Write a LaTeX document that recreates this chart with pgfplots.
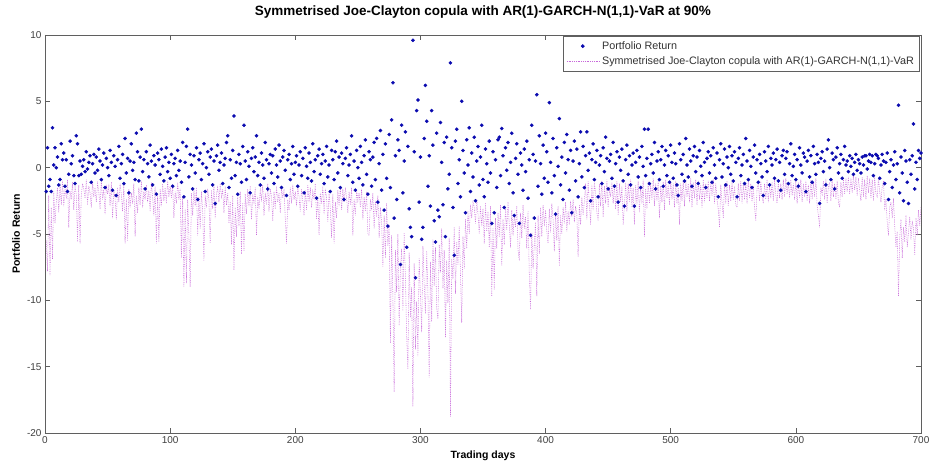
\documentclass[border=0pt]{standalone}
\usepackage{fontspec}
\setmainfont{Liberation Sans}
\usepackage{pgfplots}
\usepackage{pgfplotstable}
\pgfplotsset{compat=1.18}

\definecolor{retblue}{RGB}{10,10,175}
\definecolor{varmag}{RGB}{200,105,218}
\definecolor{framegray}{RGB}{95,95,95}

\pgfplotsset{
  dotlegend/.style={legend image code/.code={\draw[##1] plot coordinates {(16pt,0pt)};}},
  linelegend/.style={legend image code/.code={\draw[##1, draw=varmag] (0pt,0pt) -- (33pt,0pt);}},
}

% daily portfolio returns, days 1..700
\pgfplotstableread[row sep=\\]{
r\\
-1.8\\ 1.5\\ -1.4\\ -0.9\\ -1.8\\ 3.0\\ 0.2\\ 1.5\\ 0.0\\ 0.8\\
-1.3\\ -0.9\\ 1.8\\ 0.6\\ 1.1\\ -1.4\\ 0.6\\ -1.8\\ -0.5\\ 2.0\\
0.3\\ 0.9\\ -0.6\\ -1.2\\ 2.4\\ 1.8\\ -0.6\\ 0.5\\ -0.5\\ 0.1\\
0.6\\ -0.3\\ 1.2\\ -0.1\\ 0.4\\ 0.9\\ -1.1\\ 0.3\\ 1.0\\ -0.4\\
0.8\\ -0.2\\ 1.4\\ 0.5\\ -0.9\\ 0.2\\ 1.1\\ -1.5\\ 0.7\\ 0.0\\
-0.6\\ 1.3\\ 0.4\\ -1.7\\ 0.9\\ 0.1\\ -2.1\\ 0.6\\ 1.6\\ -0.8\\
0.3\\ 1.0\\ -1.2\\ 2.2\\ -0.4\\ 0.7\\ -1.9\\ 0.5\\ 1.8\\ -0.2\\
0.4\\ -0.9\\ 2.6\\ 1.2\\ -1.0\\ 0.8\\ 2.9\\ -0.3\\ 0.6\\ -1.6\\
1.2\\ 0.3\\ -0.7\\ 1.7\\ 0.5\\ -1.3\\ 0.9\\ 0.2\\ -2.0\\ 1.1\\
0.6\\ -0.5\\ 1.4\\ 0.1\\ -1.0\\ 0.8\\ 1.5\\ -0.3\\ 0.4\\ -0.8\\
1.0\\ -1.4\\ 0.3\\ 0.7\\ -0.6\\ 1.3\\ -0.2\\ 0.5\\ -1.1\\ 1.9\\
-2.2\\ 0.4\\ 1.6\\ 2.9\\ -0.7\\ 1.0\\ 0.2\\ -1.6\\ 0.9\\ -0.4\\
1.5\\ -2.4\\ 0.6\\ 1.1\\ -0.9\\ 0.3\\ 1.8\\ -1.8\\ 0.0\\ 1.2\\
-0.5\\ 0.8\\ 1.4\\ -1.3\\ 0.5\\ -2.7\\ 0.9\\ 1.7\\ -0.2\\ 0.4\\
1.1\\ -1.2\\ 0.2\\ 0.7\\ 1.9\\ 2.4\\ -1.5\\ 0.6\\ -0.8\\ 1.3\\
3.9\\ -0.6\\ 0.4\\ -2.0\\ 1.0\\ 0.3\\ -1.1\\ 1.6\\ 3.2\\ 0.5\\
-0.9\\ 1.2\\ 0.1\\ -1.9\\ 0.7\\ 1.5\\ -0.3\\ 0.8\\ 2.4\\ -0.6\\
0.4\\ -1.3\\ 1.1\\ 0.2\\ -0.8\\ 1.9\\ 0.6\\ -1.6\\ 0.3\\ 1.0\\
-0.4\\ 0.9\\ -1.2\\ 1.4\\ 0.2\\ -0.7\\ 1.7\\ 0.5\\ -1.5\\ 0.8\\
1.3\\ -0.2\\ -2.1\\ 0.6\\ 1.0\\ -0.9\\ 0.3\\ 1.6\\ -0.5\\ 0.4\\
0.9\\ -1.4\\ 0.2\\ 1.2\\ -0.6\\ 0.7\\ -1.9\\ 1.5\\ 0.1\\ -0.8\\
1.1\\ 0.4\\ -1.0\\ 1.8\\ -0.3\\ 0.6\\ -2.3\\ 0.9\\ 1.4\\ -0.5\\
0.3\\ 1.0\\ -1.2\\ 0.5\\ 1.6\\ -0.7\\ 0.2\\ -1.8\\ 1.3\\ 0.6\\
-0.9\\ 1.2\\ 2.0\\ -0.4\\ 0.8\\ -1.5\\ 1.1\\ 0.3\\ -2.4\\ 0.7\\
1.5\\ -0.6\\ 0.2\\ 1.0\\ 2.4\\ -1.1\\ 0.5\\ -1.7\\ 1.3\\ 0.0\\
-0.8\\ 1.6\\ 0.4\\ -1.3\\ 0.9\\ 2.1\\ -0.5\\ -2.0\\ 1.2\\ 0.6\\
-1.4\\ 0.8\\ 1.9\\ -0.9\\ 2.2\\ -2.6\\ 0.3\\ 2.8\\ -1.7\\ 1.0\\
-3.2\\ 1.8\\ -0.8\\ -4.4\\ 2.5\\ -1.5\\ 3.6\\ 6.4\\ -3.8\\ 0.9\\
-2.4\\ 2.1\\ 1.3\\ -7.3\\ 3.2\\ -1.9\\ 0.5\\ 2.7\\ -6.0\\ 1.6\\
-3.1\\ -4.5\\ -5.2\\ 9.6\\ 1.2\\ -8.3\\ 4.3\\ 5.1\\ -2.6\\ 0.8\\
-5.4\\ -4.5\\ 2.2\\ 6.2\\ 3.5\\ -1.4\\ 0.9\\ -2.9\\ 4.3\\ 1.7\\
-4.0\\ -5.6\\ 2.6\\ -3.2\\ -3.7\\ 3.4\\ 0.4\\ -2.8\\ 1.9\\ -5.2\\
2.3\\ -1.6\\ -0.5\\ 7.9\\ 1.5\\ -3.0\\ -6.6\\ 2.0\\ 2.9\\ -1.2\\
0.6\\ -2.2\\ 5.0\\ 1.3\\ -0.4\\ -3.4\\ 2.1\\ 0.2\\ 3.0\\ -1.8\\
1.1\\ -0.7\\ 2.3\\ -2.5\\ 0.5\\ 1.6\\ -1.3\\ 0.8\\ 3.2\\ -0.9\\
-2.2\\ 1.4\\ 0.3\\ -1.1\\ 2.0\\ -0.4\\ -4.2\\ 1.2\\ -3.4\\ 0.6\\
-1.5\\ 2.1\\ 2.3\\ -0.6\\ 2.95\\ 0.9\\ -3.0\\ 1.5\\ -0.2\\ 1.9\\
-1.2\\ 0.4\\ 2.6\\ -1.9\\ -3.6\\ 0.7\\ 1.8\\ -0.5\\ -4.2\\ 1.1\\
0.2\\ -1.7\\ 1.4\\ -0.3\\ 2.0\\ -2.3\\ 0.6\\ -5.1\\ 3.2\\ 1.0\\
-3.8\\ 0.5\\ 5.5\\ -1.4\\ 2.4\\ 0.3\\ -2.0\\ 1.7\\ -0.8\\ 2.6\\
1.2\\ -1.1\\ 4.9\\ 0.4\\ -1.9\\ 2.2\\ -0.6\\ -3.5\\ 1.5\\ 0.1\\
3.7\\ -1.3\\ 0.8\\ -2.4\\ 1.9\\ -0.4\\ 2.5\\ 0.6\\ -1.7\\ 1.3\\
-3.4\\ 0.5\\ 2.0\\ -1.0\\ 1.4\\ -2.2\\ 0.3\\ 2.7\\ -0.7\\ 1.6\\
-1.5\\ 0.9\\ 2.7\\ -0.2\\ 1.1\\ -2.5\\ 0.6\\ 1.8\\ -0.9\\ 0.4\\
1.3\\ -2.2\\ 0.2\\ 0.9\\ -1.2\\ 1.5\\ -0.3\\ 2.3\\ 0.7\\ -1.6\\
0.5\\ 1.0\\ -0.8\\ 1.9\\ -1.4\\ 0.3\\ 1.2\\ -2.6\\ 0.8\\ -0.2\\
1.4\\ -1.0\\ -2.9\\ 0.6\\ 1.7\\ -0.5\\ 0.9\\ -1.3\\ 0.2\\ 1.1\\
-2.9\\ 0.4\\ 1.3\\ -0.7\\ 0.8\\ -1.5\\ 1.6\\ 0.1\\ 2.9\\ -0.6\\
0.7\\ 2.9\\ -1.2\\ 0.3\\ 1.0\\ -0.4\\ 1.9\\ -1.6\\ 0.5\\ 1.2\\
-0.9\\ 0.6\\ 1.6\\ -1.4\\ 0.2\\ 1.3\\ -0.6\\ 0.9\\ -1.1\\ 1.7\\
0.4\\ -0.8\\ 1.1\\ 0.3\\ -1.3\\ -2.1\\ 1.8\\ 0.6\\ -0.5\\ 1.0\\
-1.0\\ 2.2\\ 0.2\\ -0.7\\ 1.4\\ 0.5\\ -1.4\\ 0.9\\ 1.6\\ -0.3\\
0.8\\ -1.2\\ 1.3\\ 0.1\\ -0.6\\ 1.9\\ 0.4\\ -1.5\\ 0.7\\ 1.2\\
-0.4\\ 0.9\\ -1.1\\ 1.5\\ 0.2\\ -0.8\\ 1.1\\ -2.2\\ 0.6\\ 1.8\\
-0.7\\ 0.3\\ 1.4\\ -1.3\\ 0.8\\ 0.0\\ 1.6\\ -0.5\\ 0.9\\ -1.0\\
1.2\\ 0.4\\ -2.2\\ 0.7\\ 1.5\\ -0.6\\ 0.2\\ 1.0\\ -1.2\\ 2.2\\
0.5\\ -0.9\\ 1.3\\ 0.1\\ -1.5\\ 0.8\\ 1.7\\ -0.4\\ 0.6\\ -1.1\\
1.0\\ 0.3\\ -0.7\\ -2.1\\ 1.2\\ 0.5\\ -0.3\\ 1.6\\ -1.3\\ 0.7\\
0.2\\ 1.1\\ -0.8\\ 0.6\\ 1.4\\ -1.0\\ 0.4\\ -1.7\\ 0.9\\ 1.3\\
-0.5\\ 0.7\\ 1.2\\ -1.2\\ 0.3\\ 1.8\\ -0.6\\ 0.1\\ 1.0\\ -0.9\\
0.6\\ -1.4\\ 1.5\\ 0.2\\ -0.4\\ 1.1\\ 0.8\\ -1.8\\ 0.5\\ 1.3\\
-0.7\\ 0.9\\ -1.1\\ 1.6\\ 0.3\\ -0.5\\ 1.0\\ 0.4\\ -2.7\\ 0.7\\
1.2\\ -0.3\\ 0.5\\ -1.3\\ 1.4\\ 2.1\\ 0.0\\ -0.9\\ 1.1\\ 0.6\\
-1.6\\ 0.8\\ 1.5\\ -0.4\\ 0.3\\ 1.0\\ -0.8\\ 0.6\\ 1.6\\ 0.2\\
0.5\\ -0.3\\ 0.9\\ 0.1\\ 0.7\\ -0.5\\ 0.4\\ 1.0\\ -0.2\\ 0.6\\
0.3\\ -0.4\\ 0.8\\ 0.2\\ 0.9\\ 0.9\\ -0.1\\ 0.5\\ 1.0\\ 0.4\\
0.9\\ -0.6\\ 0.3\\ 1.0\\ 0.9\\ 0.7\\ -0.8\\ 0.2\\ 1.0\\ 0.5\\
-1.2\\ 0.4\\ 1.1\\ -2.4\\ -0.3\\ 0.6\\ -1.5\\ 0.2\\ 1.2\\ -0.9\\
0.3\\ 4.7\\ -1.9\\ 0.8\\ -0.4\\ -2.5\\ 1.3\\ 0.5\\ -1.1\\ -2.7\\
0.6\\ -0.5\\ 0.9\\ 3.3\\ -1.6\\ 0.4\\ -0.9\\ 1.3\\ 0.7\\ 1.1\\
}\returns

% 90% value-at-risk forecasts, days 1..700
\pgfplotstableread[row sep=\\]{
v\\
-5.5\\ -7.8\\ -2.1\\ -8.1\\ -3.0\\ -6.9\\ -1.8\\ -4.2\\ -2.6\\ -1.5\\
-3.4\\ -1.2\\ -2.8\\ -1.0\\ -2.9\\ -1.6\\ -2.2\\ -0.9\\ -4.5\\ -1.8\\
-2.4\\ -1.1\\ -3.2\\ -1.4\\ -2.0\\ -5.6\\ -1.3\\ -5.7\\ -2.1\\ -1.2\\
-1.6\\ -2.3\\ -0.9\\ -2.8\\ -1.4\\ -1.9\\ -3.0\\ -1.1\\ -2.2\\ -1.5\\
-2.6\\ -1.2\\ -1.8\\ -3.1\\ -1.0\\ -2.4\\ -1.6\\ -3.5\\ -1.3\\ -2.0\\
-1.4\\ -2.9\\ -1.1\\ -3.8\\ -1.7\\ -2.3\\ -3.9\\ -1.5\\ -2.6\\ -1.2\\
-2.0\\ -3.3\\ -1.3\\ -5.7\\ -2.4\\ -5.5\\ -1.6\\ -3.0\\ -1.9\\ -2.7\\
-1.2\\ -5.2\\ -2.1\\ -3.4\\ -1.5\\ -2.8\\ -1.0\\ -3.0\\ -1.8\\ -2.4\\
-1.3\\ -2.6\\ -1.7\\ -3.3\\ -1.1\\ -2.2\\ -3.6\\ -1.4\\ -5.7\\ -2.0\\
-5.6\\ -1.6\\ -2.9\\ -1.2\\ -2.5\\ -1.5\\ -2.7\\ -1.0\\ -2.2\\ -1.4\\
-2.3\\ -1.3\\ -3.8\\ -1.8\\ -2.7\\ -1.1\\ -2.4\\ -1.6\\ -6.8\\ -2.2\\
-9.0\\ -3.1\\ -8.7\\ -2.4\\ -5.2\\ -9.0\\ -1.9\\ -3.6\\ -1.7\\ -2.9\\
-1.5\\ -5.1\\ -2.2\\ -4.6\\ -1.8\\ -3.3\\ -7.0\\ -2.1\\ -3.0\\ -1.6\\
-2.4\\ -5.7\\ -1.7\\ -3.1\\ -1.3\\ -3.8\\ -2.0\\ -1.5\\ -2.6\\ -1.2\\
-2.2\\ -1.6\\ -3.4\\ -1.4\\ -2.8\\ -1.9\\ -4.2\\ -2.5\\ -5.8\\ -2.1\\
-7.7\\ -3.0\\ -5.2\\ -2.2\\ -4.4\\ -1.8\\ -6.5\\ -2.7\\ -6.3\\ -2.0\\
-3.5\\ -1.6\\ -2.9\\ -1.4\\ -3.9\\ -2.0\\ -2.6\\ -1.5\\ -5.1\\ -2.2\\
-3.1\\ -1.7\\ -2.4\\ -1.3\\ -3.6\\ -1.9\\ -2.8\\ -1.2\\ -3.3\\ -1.6\\
-2.2\\ -4.0\\ -1.8\\ -3.1\\ -1.4\\ -2.6\\ -1.9\\ -3.4\\ -1.5\\ -2.3\\
-1.6\\ -3.8\\ -5.7\\ -2.4\\ -3.2\\ -1.5\\ -2.7\\ -1.3\\ -2.4\\ -1.8\\
-2.9\\ -1.4\\ -2.2\\ -3.3\\ -1.6\\ -2.5\\ -3.6\\ -1.7\\ -3.2\\ -1.3\\
-2.6\\ -1.5\\ -3.0\\ -1.8\\ -2.4\\ -1.2\\ -3.9\\ -2.2\\ -5.1\\ -1.9\\
-2.7\\ -1.4\\ -3.5\\ -1.6\\ -2.3\\ -4.1\\ -1.8\\ -3.1\\ -5.3\\ -2.0\\
-5.7\\ -2.6\\ -3.8\\ -1.7\\ -2.9\\ -1.4\\ -3.2\\ -1.6\\ -2.6\\ -1.5\\
-2.3\\ -3.4\\ -1.8\\ -2.8\\ -1.5\\ -5.1\\ -2.4\\ -3.6\\ -1.7\\ -2.5\\
-1.9\\ -3.0\\ -1.6\\ -3.9\\ -2.2\\ -3.3\\ -1.8\\ -5.0\\ -5.1\\ -2.4\\
-3.2\\ -1.9\\ -4.6\\ -2.5\\ -3.7\\ -2.1\\ -5.3\\ -3.0\\ -4.1\\ -7.5\\
-3.6\\ -6.8\\ -2.7\\ -5.9\\ -4.3\\ -13.2\\ -5.1\\ -9.8\\ -16.9\\ -6.2\\
-9.4\\ -5.0\\ -11.9\\ -7.6\\ -6.1\\ -10.8\\ -4.9\\ -8.2\\ -12.7\\ -15.2\\
-6.4\\ -11.3\\ -9.0\\ -18.0\\ -7.2\\ -13.7\\ -10.1\\ -14.2\\ -6.8\\ -9.6\\
-12.4\\ -5.9\\ -8.8\\ -11.0\\ -6.3\\ -9.4\\ -15.8\\ -7.1\\ -11.6\\ -5.4\\
-8.9\\ -6.0\\ -10.6\\ -11.4\\ -5.8\\ -7.9\\ -4.6\\ -9.1\\ -6.2\\ -12.8\\
-7.0\\ -10.2\\ -5.3\\ -18.8\\ -6.9\\ -8.4\\ -4.5\\ -9.5\\ -5.6\\ -7.3\\
-4.4\\ -8.0\\ -11.7\\ -5.2\\ -7.6\\ -3.9\\ -6.1\\ -3.3\\ -5.0\\ -2.8\\
-3.8\\ -2.6\\ -3.0\\ -4.2\\ -2.4\\ -3.5\\ -5.0\\ -2.9\\ -4.4\\ -3.1\\
-5.7\\ -2.7\\ -4.8\\ -3.3\\ -6.0\\ -2.9\\ -9.7\\ -4.6\\ -9.2\\ -3.8\\
-6.1\\ -3.4\\ -5.2\\ -2.8\\ -7.4\\ -3.9\\ -5.8\\ -3.0\\ -4.7\\ -2.6\\
-4.3\\ -6.0\\ -3.2\\ -5.1\\ -3.6\\ -4.5\\ -2.9\\ -6.2\\ -7.0\\ -3.4\\
-5.3\\ -2.8\\ -4.6\\ -3.7\\ -6.1\\ -3.3\\ -8.1\\ -10.7\\ -4.9\\ -7.6\\
-5.8\\ -4.1\\ -9.7\\ -3.6\\ -6.5\\ -3.0\\ -5.2\\ -2.8\\ -4.4\\ -3.2\\
-4.8\\ -5.7\\ -3.1\\ -4.9\\ -2.7\\ -3.9\\ -6.3\\ -3.4\\ -5.5\\ -2.9\\
-7.4\\ -3.6\\ -5.0\\ -3.0\\ -4.2\\ -2.6\\ -4.8\\ -3.3\\ -4.3\\ -2.5\\
-3.7\\ -2.4\\ -4.1\\ -2.9\\ -3.5\\ -6.7\\ -2.8\\ -4.3\\ -2.2\\ -3.6\\
-2.5\\ -1.2\\ -3.9\\ -1.0\\ -2.7\\ -4.3\\ -1.3\\ -3.2\\ -1.1\\ -2.0\\
-3.4\\ -4.0\\ -1.2\\ -2.9\\ -1.0\\ -3.7\\ -1.4\\ -2.7\\ -0.9\\ -3.0\\
-1.6\\ -2.2\\ -1.1\\ -2.7\\ -1.3\\ -3.1\\ -1.0\\ -3.6\\ -1.2\\ -2.6\\
-1.4\\ -4.3\\ -2.9\\ -1.1\\ -3.3\\ -1.2\\ -2.6\\ -0.9\\ -3.0\\ -1.5\\
-4.3\\ -1.3\\ -2.8\\ -1.0\\ -3.4\\ -1.4\\ -2.7\\ -0.9\\ -5.2\\ -1.6\\
-3.1\\ -1.0\\ -2.7\\ -1.3\\ -2.4\\ -0.8\\ -2.9\\ -1.2\\ -2.5\\ -1.0\\
-3.8\\ -1.4\\ -2.6\\ -1.1\\ -3.2\\ -0.9\\ -2.3\\ -1.3\\ -2.8\\ -0.9\\
-2.4\\ -1.2\\ -3.0\\ -1.0\\ -2.7\\ -1.5\\ -4.3\\ -1.2\\ -2.5\\ -1.0\\
-2.9\\ -0.9\\ -2.2\\ -1.2\\ -2.6\\ -0.8\\ -3.0\\ -1.1\\ -2.3\\ -0.9\\
-2.8\\ -1.0\\ -2.4\\ -1.3\\ -3.0\\ -0.9\\ -2.6\\ -1.2\\ -2.3\\ -1.0\\
-2.5\\ -1.1\\ -2.1\\ -0.9\\ -2.7\\ -1.2\\ -2.4\\ -3.1\\ -4.5\\ -1.3\\
-2.6\\ -3.8\\ -1.2\\ -2.7\\ -1.0\\ -2.9\\ -1.3\\ -2.5\\ -1.1\\ -2.4\\
-1.4\\ -2.8\\ -3.0\\ -1.2\\ -2.5\\ -1.0\\ -2.7\\ -1.3\\ -2.4\\ -1.1\\
-2.7\\ -0.9\\ -2.3\\ -1.2\\ -2.6\\ -1.4\\ -3.0\\ -4.0\\ -1.6\\ -1.1\\
-2.5\\ -1.0\\ -2.2\\ -2.7\\ -1.2\\ -2.4\\ -0.9\\ -2.6\\ -1.3\\ -2.3\\
-1.1\\ -2.5\\ -0.9\\ -2.1\\ -2.7\\ -1.0\\ -2.3\\ -1.2\\ -2.4\\ -0.9\\
-2.2\\ -0.8\\ -2.0\\ -1.1\\ -2.3\\ -0.9\\ -2.1\\ -1.2\\ -2.4\\ -1.0\\
-2.7\\ -1.1\\ -2.3\\ -0.9\\ -2.6\\ -1.2\\ -2.2\\ -1.0\\ -2.5\\ -1.3\\
-2.7\\ -0.9\\ -2.4\\ -1.1\\ -2.2\\ -0.8\\ -2.9\\ -3.6\\ -4.5\\ -1.5\\
-2.0\\ -1.0\\ -2.4\\ -0.8\\ -2.7\\ -1.4\\ -1.1\\ -2.5\\ -0.9\\ -2.2\\
-1.2\\ -2.4\\ -1.0\\ -2.6\\ -3.0\\ -1.1\\ -2.2\\ -0.9\\ -2.0\\ -0.8\\
-1.8\\ -0.7\\ -2.0\\ -0.8\\ -1.9\\ -0.6\\ -1.7\\ -0.7\\ -2.1\\ -0.8\\
-1.7\\ -2.5\\ -0.7\\ -2.2\\ -0.9\\ -2.4\\ -0.6\\ -1.9\\ -0.8\\ -2.3\\
-0.9\\ -2.5\\ -0.7\\ -2.0\\ -2.2\\ -0.8\\ -1.8\\ -2.6\\ -1.4\\ -1.0\\
-3.2\\ -2.4\\ -4.1\\ -5.1\\ -3.0\\ -2.6\\ -3.8\\ -2.3\\ -4.4\\ -6.0\\
-4.8\\ -9.7\\ -5.3\\ -3.9\\ -6.8\\ -4.5\\ -5.6\\ -3.6\\ -6.0\\ -4.9\\
-3.7\\ -5.4\\ -4.0\\ -4.6\\ -6.6\\ -3.8\\ -5.1\\ -3.2\\ -4.4\\ -2.9\\
}\varforecast

\begin{document}
\begin{tikzpicture}
\useasboundingbox (-45pt,-29pt) rectangle (885pt,433pt);
\begin{axis}[
  at={(0pt,0pt)}, anchor=south west,
  scale only axis, width=876pt, height=398pt,
  xmin=0, xmax=700, ymin=-20, ymax=10,
  xtick={0,100,...,700}, ytick={-20,-15,...,10},
  tick align=inside, xtick pos=both, ytick pos=both,
  major tick length=5pt,
  axis line style={framegray, line width=0.7pt},
  every tick/.style={framegray, line width=0.7pt},
  tick label style={font=\fontsize{10}{12}\selectfont, text=black!75},
  /pgf/number format/assume math mode=true,
  title={Symmetrised Joe-Clayton copula with AR(1)-GARCH-N(1,1)-VaR at 90\%},
  title style={font=\bfseries\fontsize{13.5}{15}\selectfont, at={(axis description cs:0.5,1.0427)}, anchor=center, yshift=0pt},
  xlabel={Trading days},
  xlabel style={font=\bfseries\fontsize{10.5}{12}\selectfont, at={(axis description cs:0.5,-0.058)}, anchor=center},
  ylabel={Portfolio Return},
  ylabel style={font=\bfseries\fontsize{10.5}{12}\selectfont, at={(axis description cs:-0.0331,0.5)}, anchor=center},
  legend style={at={(axis description cs:0.998,0.997)}, anchor=north east,
    draw=framegray, line width=0.6pt, fill=white,
    font=\fontsize{10.8}{13}\selectfont, text=black!80,
    legend cell align=left, inner sep=3pt, row sep=2pt},
]
\addplot[only marks, mark=*, mark size=1.6pt, retblue, mark options={draw=none, fill=retblue}, dotlegend]
  table[x expr=\coordindex+1, y=r] \returns;
\addlegendentry{Portfolio Return}
\addplot[varmag, line width=0.55pt, dash pattern=on 0.7pt off 1.1pt, mark=none, linelegend]
  table[x expr=\coordindex+1, y=v] \varforecast;
\addlegendentry{Symmetrised Joe-Clayton copula with AR(1)-GARCH-N(1,1)-VaR}
\end{axis}
\end{tikzpicture}
\end{document}
